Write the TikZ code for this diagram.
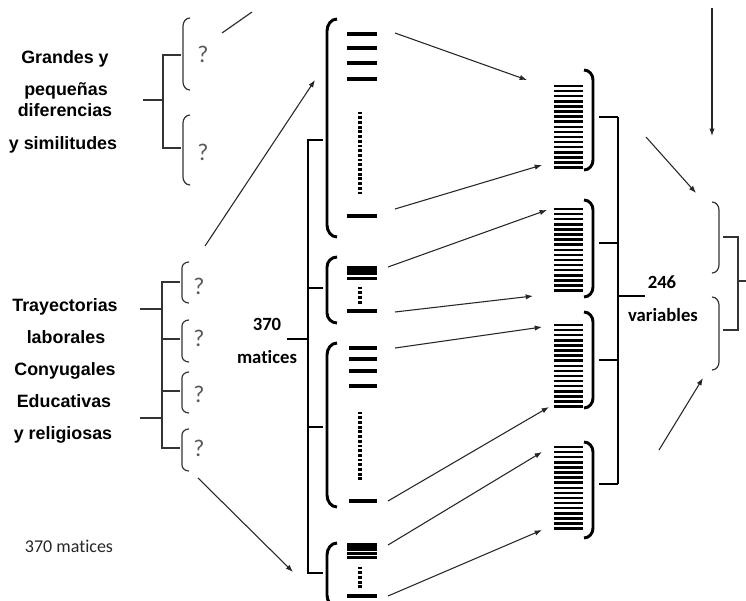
\documentclass[tikz,border=0pt]{standalone}
\usepackage{fontspec}
\setmainfont{Liberation Sans}
\newfontfamily\carl[Ligatures=NoCommon]{Carlito}
\usetikzlibrary{arrows.meta}
\begin{document}
\begin{tikzpicture}[x=0.75pt,y=-0.75pt,
  thinline/.style={line width=0.9pt, draw=black!80},
  thk/.style={line width=2.2pt},
  barline/.style={line width=2.6pt},
  codeline/.style={line width=1.9pt},
  arr/.style={line width=0.8pt, draw=black!85, -{Latex[length=5.5pt,width=4pt]}},
  lbl/.style={font=\fontsize{13.4}{15}\selectfont\bfseries, inner sep=0pt, anchor=base},
  num/.style={font=\carl\fontsize{14}{16}\selectfont\bfseries, inner sep=0pt, anchor=base},
  qm/.style={font=\carl\fontsize{18}{20}\selectfont, text=black!65, inner sep=0pt, anchor=base},
]
\useasboundingbox (0,0) rectangle (746,600);
\clip (0,0) rectangle (746,600);
\fill[white] (0,0) rectangle (746,600);

% ---------- left top group ----------
\node[lbl] (g1) at (65,63) {Grandes y};
\node[lbl] (g2) at (66,95) {pequeñas};
\node[lbl] (g3) at (65,116) {diferencias};
\node[lbl] (g4) at (63,149) {y similitudes};
\draw[thinline] (143,100) -- (163,100);
\draw[thinline] (181,55) -- (163,55) -- (163,148) -- (181,148);
\draw[thinline] (190,18) to[out=180,in=90] (183,26) -- (183,82) to[out=-90,in=180] (190,90);
\draw[thinline] (190,115) to[out=180,in=90] (183,123) -- (183,177) to[out=-90,in=180] (190,185);
\node[qm] (q1) at (203,62) {?};
\node[qm] (q2) at (203,160) {?};

% ---------- left middle group ----------
\node[lbl] (t1) at (65,311) {Trayectorias};
\node[lbl] (t2) at (66,343) {laborales};
\node[lbl] (t3) at (65,375) {Conyugales};
\node[lbl] (t4) at (64,407) {Educativas};
\node[lbl] (t5) at (63,439) {y religiosas};
\draw[thinline] (140,309) -- (162,309);
\draw[thinline] (140,418) -- (162,418);
\draw[thinline] (180,282) -- (162,282) -- (162,448) -- (180,448);
\draw[thinline] (162,339) -- (180,339);
\draw[thinline] (162,391) -- (180,391);
\foreach \a/\b in {262/303, 320/362, 372/413, 429/471}{
  \draw[thinline] (189,\a) to[out=180,in=90] (182,\a+6) -- (182,\b-6) to[out=-90,in=180] (189,\b);
}
\node[qm] (q3) at (199,294) {?};
\node[qm] (q4) at (199,346) {?};
\node[qm] (q5) at (199,402) {?};
\node[qm] (q6) at (199,456) {?};

\node[font=\carl\fontsize{13.5}{16}\selectfont, text=black!85, inner sep=0pt, anchor=base] (m0) at (69,552) {370 matices};

% ---------- central column ----------
\node[num] (n370) at (267,330) {370};
\node[num] (nmat) at (267,363) {matices};
\draw[thk] (323,140) -- (308,140) -- (308,573) -- (323,573);
\draw[thk] (308,288) -- (323,288);
\draw[thk] (308,427) -- (323,427);
\draw[thk] (287,339) -- (308,339);

\draw[thk] (337,19) to[out=180,in=90] (327,31) -- (327,225) to[out=-90,in=180] (337,237);
\draw[thk] (337,257) to[out=180,in=90] (327,267) -- (327,313) to[out=-90,in=180] (337,323);
\draw[thk] (337,343) to[out=180,in=90] (327,355) -- (327,495) to[out=-90,in=180] (337,507);
\draw[thk] (337,543) to[out=180,in=90] (327,555) -- (327,595) to[out=-90,in=180] (337,607);

% bars A
\foreach \y in {34,48,63,79,216}{ \draw[barline] (347,\y) -- (377,\y); }
\foreach \y in {113,117.7,...,197}{ \fill (358.4,\y-1.4) rectangle (361.6,\y+1.4); }
% bars B
\fill (347,266) rectangle (377,275);
\draw[thk] (347,278.5) -- (377,278.5);
\foreach \y in {288,292.7,...,306}{ \fill (358.4,\y-1.4) rectangle (361.6,\y+1.4); }
\draw[barline] (347,311) -- (377,311);
% bars C
\foreach \y in {348,359,371,386,501}{ \draw[barline] (349,\y) -- (377,\y); }
\foreach \y in {413,417.7,...,483}{ \fill (358.4,\y-1.4) rectangle (361.6,\y+1.4); }
% bars D
\fill (347,543) rectangle (377,550.5);
\draw[line width=1.6pt] (347,553.5) -- (377,553.5);
\draw[line width=1.6pt] (347,557.5) -- (377,557.5);
\foreach \y in {568,572.7,...,590}{ \fill (358.4,\y-1.4) rectangle (361.6,\y+1.4); }
\draw[barline] (347,596) -- (377,596);

% ---------- right barcodes ----------
\foreach \yo in {86,209,325,447}{
  \foreach \i in {0,...,16}{ \draw[codeline] (554,\yo+\i*5.1) -- (583,\yo+\i*5.1); }
}
\foreach \a/\b in {70/170, 200/297, 312/408, 442/538}{
  \draw[thk] (584,\a) to[out=0,in=90] (593,\a+10) -- (593,\b-10) to[out=-90,in=0] (584,\b);
}
\draw[thk] (599,117) -- (618,117);
\draw[thk] (599,243) -- (618,243);
\draw[thk] (599,360) -- (618,360);
\draw[thk] (599,484) -- (618,484);
\draw[thk] (618,117) -- (618,484);
\draw[thk] (618,296) -- (645,296);
\node[num] (n246) at (662,288) {246};
\node[num] (nvar) at (663,321) {variables};

% ---------- far right ----------
\draw[thinline] (712,202) to[out=0,in=90] (719,210) -- (719,265) to[out=-90,in=0] (712,273);
\draw[thinline] (712,297) to[out=0,in=90] (719,305) -- (719,362) to[out=-90,in=0] (712,370);
\draw[thinline] (723,237) -- (738,237) -- (738,330) -- (723,330);
\draw[thinline] (738,281) -- (746,281);

% ---------- arrows ----------
\coordinate (p0) at (222,33);  \coordinate (p1) at (252,12);
\draw[thinline] (p0) -- (p1);
\coordinate (s1) at (205,246); \coordinate (e1) at (315,80);
\coordinate (s2) at (198,478); \coordinate (e2) at (293,572);
\draw[arr] (s1) -- (e1);
\draw[arr] (s2) -- (e2);
\coordinate (b1s) at (395,33);  \coordinate (b1e) at (527,80);
\coordinate (b2s) at (395,209); \coordinate (b2e) at (542,165);
\coordinate (b3s) at (388,267); \coordinate (b3e) at (547,210);
\coordinate (b4s) at (395,312); \coordinate (b4e) at (533,296);
\coordinate (b5s) at (395,348); \coordinate (b5e) at (542,327);
\coordinate (b6s) at (388,501); \coordinate (b6e) at (549,407);
\coordinate (b7s) at (388,545); \coordinate (b7e) at (542,452);
\coordinate (b8s) at (388,596); \coordinate (b8e) at (542,530);
\foreach \k in {1,...,8}{ \draw[arr] (b\k s) -- (b\k e); }
\coordinate (r1s) at (712,8);   \coordinate (r1e) at (712,136);
\coordinate (r2s) at (646,137); \coordinate (r2e) at (696,193);
\coordinate (r3s) at (659,450); \coordinate (r3e) at (703,378);
\draw[arr] (r1s) -- (r1e);
\draw[arr] (r2s) -- (r2e);
\draw[arr] (r3s) -- (r3e);
\end{tikzpicture}
\end{document}
